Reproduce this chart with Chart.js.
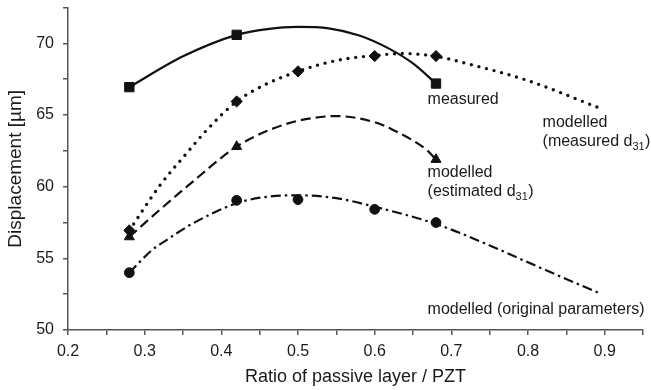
<!DOCTYPE html>
<html>
<head>
<meta charset="utf-8">
<script src="https://cdn.jsdelivr.net/npm/chart.js@4"></script>
<style>
html,body{margin:0;padding:0;background:#fff;}
#wrap{width:651px;height:390px;}
</style>
</head>
<body>
<div id="wrap"><canvas id="c" width="651" height="390"></canvas></div>
<script>
// ---- data ----
const xTicks = [0.2,0.25,0.3,0.35,0.4,0.45,0.5,0.55,0.6,0.65,0.7,0.75,0.8,0.85,0.9,0.95];
const xTickLabels = ['0.2','0.3','0.4','0.5','0.6','0.7','0.8','0.9'];
const yTicks = [50,52.5,55,57.5,60,62.5,65,67.5,70,72.5];
const yTickLabels = ['50','55','60','65','70'];

// measured (squares)
const measuredX = [0.28, 0.42, 0.68];
const measuredY = [66.95, 70.6, 67.2];
const measuredFitX = [0.28, 0.35, 0.42, 0.46, 0.5, 0.54, 0.58, 0.62, 0.65, 0.68];
const measuredFitY = [66.95, 69.1, 70.6, 71.0, 71.15, 71.05, 70.55, 69.6, 68.6, 67.2];

// modelled (measured d31) (diamonds)
const measD31X = [0.28, 0.42, 0.5, 0.6, 0.68];
const measD31Y = [56.95, 65.95, 68.05, 69.12, 69.12];
const measD31FitX = [0.28, 0.32, 0.355, 0.38, 0.42, 0.46, 0.5, 0.53, 0.565, 0.6, 0.635, 0.68, 0.72, 0.8, 0.89];
const measD31FitY = [56.95, 60.1, 62.35, 63.9, 65.95, 67.2, 68.05, 68.55, 68.95, 69.15, 69.3, 69.1, 68.6, 67.4, 65.56];

// modelled (estimated d31) (triangles)
const estD31X = [0.28, 0.42, 0.68];
const estD31Y = [56.5, 62.8, 61.9];
const estD31FitX = [0.28, 0.32, 0.355, 0.42, 0.46, 0.5, 0.55, 0.6, 0.624, 0.668, 0.68];
const estD31FitY = [56.5, 58.4, 60.0, 62.8, 63.9, 64.6, 64.93, 64.5, 63.96, 62.56, 61.9];

// modelled (original parameters) (circles)
const origX = [0.28, 0.42, 0.5, 0.6, 0.68];
const origY = [54.0, 59.05, 59.1, 58.42, 57.5];
const origFitX = [0.28, 0.31, 0.325, 0.36, 0.42, 0.46, 0.5, 0.55, 0.6, 0.68, 0.75, 0.82, 0.894];
const origFitY = [54.0, 55.6, 56.15, 57.35, 58.85, 59.3, 59.4, 59.2, 58.6, 57.4, 55.9, 54.25, 52.55];

// annotation texts and their anchor positions (data units)
const labelTexts = [
  ['measured'],
  ['modelled'],
  ['(measured d', '31', ')'],
  ['modelled'],
  ['(estimated d', '31', ')'],
  ['modelled (original parameters)']
];
const labelX = [0.669, 0.819, 0.819, 0.669, 0.669, 0.669];
const labelY = [66.05, 64.44, 63.12, 60.96, 59.63, 51.4];

// ---- build ----
const pts = (xs, ys) => xs.map((x, i) => ({x: x, y: ys[i]}));
const INK = '#111';
const AXIS = '#555';
const FONT = "'Liberation Sans', Arial, sans-serif";

function curve(xs, ys, dash, width, cap) {
  return {type: 'line', data: pts(xs, ys), showLine: true, borderColor: INK, borderWidth: width,
    borderDash: dash, borderCapStyle: cap || 'butt', pointRadius: 0, pointHoverRadius: 0,
    cubicInterpolationMode: 'monotone', fill: false, order: 2};
}
function markers(xs, ys, style, r) {
  return {type: 'scatter', data: pts(xs, ys), showLine: false, pointStyle: style, pointRadius: r,
    pointBackgroundColor: INK, pointBorderColor: INK, pointBorderWidth: 1, order: 1};
}

const labelPlugin = {
  id: 'labels',
  afterDatasetsDraw(chart) {
    const ctx = chart.ctx, xs = chart.scales.x, ys = chart.scales.y;
    ctx.save();
    ctx.fillStyle = '#1a1a1a';
    ctx.textBaseline = 'middle';
    ctx.textAlign = 'left';
    labelTexts.forEach((parts, i) => {
      let px = xs.getPixelForValue(labelX[i]);
      const py = ys.getPixelForValue(labelY[i]);
      parts.forEach((p, j) => {
        const sub = parts.length === 3 && j === 1;
        ctx.font = (sub ? '11px ' : '16px ') + FONT;
        ctx.fillText(p, px, sub ? py + 5 : py);
        px += ctx.measureText(p).width + (sub ? 0.5 : 0);
      });
    });
    ctx.restore();
  }
};

new Chart(document.getElementById('c'), {
  type: 'scatter',
  data: {
    datasets: [
      curve(measuredFitX, measuredFitY, [], 2.2),
      curve(measD31FitX, measD31FitY, [0, 7.8], 3.4, 'round'),
      curve(estD31FitX, estD31FitY, [10, 5], 2.2),
      curve(origFitX, origFitY, [10, 4, 2.5, 4], 2.2),
      markers(measuredX, measuredY, 'rect', 6.6),
      markers(measD31X, measD31Y, 'rectRot', 5.6),
      markers(estD31X, estD31Y, 'triangle', 5.8),
      markers(origX, origY, 'circle', 4.9)
    ]
  },
  options: {
    responsive: false,
    animation: false,
    devicePixelRatio: 1,
    layout: {padding: {top: 7.5, right: 8, left: 0, bottom: 0}},
    plugins: {legend: {display: false}, tooltip: {enabled: false}},
    scales: {
      x: {
        type: 'linear', min: 0.2, max: 0.95,
        afterBuildTicks: s => { s.ticks = xTicks.map(v => ({value: v})); },
        afterFit: s => { s.height = 60; s.paddingRight = 0; },
        ticks: {
          autoSkip: false, maxRotation: 0, padding: 7, color: '#1a1a1a',
          font: {family: FONT, size: 16},
          callback: v => { const t = v.toFixed(2).replace(/0$/, ''); return xTickLabels.includes(t) ? t : ''; }
        },
        grid: {drawOnChartArea: false, drawTicks: true, tickLength: 5, color: AXIS, lineWidth: 1.5},
        border: {display: true, color: AXIS, width: 1.5},
        title: {display: true, text: 'Ratio of passive layer / PZT', color: '#1a1a1a',
          font: {family: FONT, size: 18}, padding: {top: 0, bottom: 2}}
      },
      y: {
        type: 'linear', min: 50, max: 72.5,
        afterBuildTicks: s => { s.ticks = yTicks.map(v => ({value: v})); },
        afterFit: s => { s.width = 68; s.paddingTop = 0; s.paddingBottom = 0; },
        ticks: {
          autoSkip: false, padding: 9, color: '#1a1a1a',
          font: {family: FONT, size: 16},
          callback: v => { const t = String(v); return yTickLabels.includes(t) ? t : ''; }
        },
        grid: {drawOnChartArea: false, drawTicks: true, tickLength: 5, color: AXIS, lineWidth: 1.5},
        border: {display: true, color: AXIS, width: 1.5},
        title: {display: true, text: 'Displacement [µm]', color: '#1a1a1a',
          font: {family: FONT, size: 19}, padding: {top: 4, bottom: 4}}
      }
    }
  },
  plugins: [labelPlugin]
});
</script>
</body>
</html>
